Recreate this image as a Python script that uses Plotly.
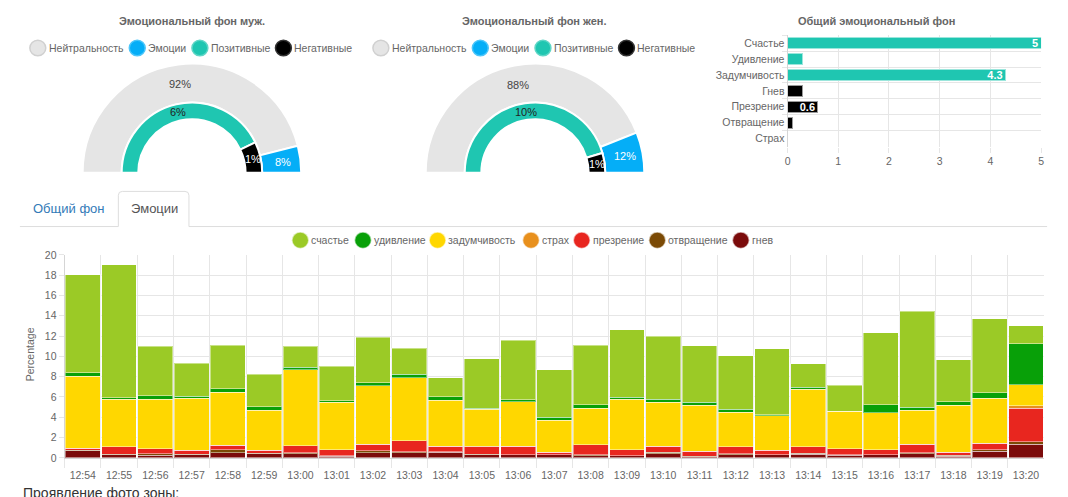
import math
import plotly.graph_objects as go

W, H = 1068, 497


def px(x):
    return x / W


def py(y):
    return 1 - y / H


FONT = "Liberation Sans, Arial, Helvetica, sans-serif"
TXT = "#666666"
GRID = "#e6e6e6"
FS = 10.5

# ---------------- data ----------------
gauge_outer_labels = ["Нейтральность", "Эмоции"]
gauge_inner_labels = ["Позитивные", "Негативные"]
male_outer = [92, 8]
male_inner = [6, 1]
female_outer = [88, 12]
female_inner = [10, 1]

overall_labels = ["Счастье", "Удивление", "Задумчивость", "Гнев", "Презрение", "Отвращение", "Страх"]
overall_values = [5, 0.3, 4.3, 0.3, 0.6, 0.1, 0]
overall_kind = ["pos", "pos", "pos", "neg", "neg", "neg", "neg"]

times = ["12:54", "12:55", "12:56", "12:57", "12:58", "12:59", "13:00", "13:01", "13:02",
         "13:03", "13:04", "13:05", "13:06", "13:07", "13:08", "13:09", "13:10", "13:11",
         "13:12", "13:13", "13:14", "13:15", "13:16", "13:17", "13:18", "13:19", "13:20"]
anger = [0.7, 0.3, 0.25, 0.3, 0.48, 0.42, 0.38, 0.15, 0.51, 0.48, 0.55, 0.32, 0.29, 0.29,
         0.22, 0.19, 0.42, 0.13, 0.32, 0.29, 0.35, 0.26, 0.29, 0.38, 0.16, 0.64, 1.34]
disgust = [0.05, 0.05, 0.15, 0.05, 0.32, 0.03, 0.1, 0.04, 0.19, 0.1, 0.03, 0.03, 0.03, 0.03,
           0.1, 0.03, 0.12, 0.03, 0.1, 0.03, 0.1, 0.06, 0.03, 0.1, 0.1, 0.16, 0.26]
contempt = [0.18, 0.73, 0.5, 0.42, 0.45, 0.29, 0.7, 0.61, 0.64, 1.12, 0.54, 0.74, 0.8, 0.22,
            0.99, 0.58, 0.61, 0.51, 0.67, 0.42, 0.64, 0.58, 0.48, 0.86, 0.28, 0.64, 3.26]
fear = [0.02, 0, 0, 0, 0, 0, 0, 0, 0, 0, 0, 0.03, 0, 0,
        0, 0, 0, 0, 0, 0, 0, 0, 0, 0, 0, 0, 0.26]
thoughtful = [7.1, 4.68, 4.86, 5.09, 5.21, 3.93, 7.52, 4.67, 5.76, 6.17, 4.54, 3.65, 4.42, 3.14,
              3.55, 4.96, 4.35, 4.51, 3.42, 3.42, 5.66, 3.68, 3.62, 3.36, 4.64, 4.42, 2.08]
surprise = [0.35, 0.14, 0.38, 0.22, 0.36, 0.35, 0.23, 0.13, 0.29, 0.35, 0.36, 0.09, 0.19, 0.32,
            0.36, 0.22, 0.26, 0.29, 0.29, 0.1, 0.19, 0.02, 0.8, 0.26, 0.36, 0.54, 4.06]
happiness = [9.65, 13.1, 4.86, 3.22, 4.28, 3.2, 2.07, 3.42, 4.48, 2.56, 1.88, 4.9, 5.85, 4.7,
             5.88, 6.62, 6.21, 5.57, 5.25, 6.49, 2.31, 2.54, 7.1, 9.5, 4.12, 7.3, 1.76]

# ---------------- styles ----------------
C_NEUTRAL = "#e5e5e5"
C_EMO = "#05aef7"
C_POS = "#1fc6b1"
C_NEG = "#000000"

series = [  # bottom -> top
    ("гнев", anger, "#7b0b0b"),
    ("отвращение", disgust, "#7b4a05"),
    ("презрение", contempt, "#e8261f"),
    ("страх", fear, "#e8901d"),
    ("задумчивость", thoughtful, "#ffd700"),
    ("удивление", surprise, "#08a008"),
    ("счастье", happiness, "#9bca26"),
]

fig = go.Figure()
shapes = []
annotations = []

# ---------------- gauges ----------------
R_OUT, R_MID, R_IN = 112, 72, 55
GAUGE_CY = 171
gauges = [
    (190, "Эмоциональный фон муж.", male_outer, male_inner),
    (535, "Эмоциональный фон жен.", female_outer, female_inner),
]


def half_pie(vals, labels, colors, tcolors, cx, r, r_hole):
    total = sum(vals)
    # labels placed at the middle of each slice (half circle from 9 o'clock clockwise)
    cum = 0
    rm = (r + r_hole) / 2
    for v, tc in zip(vals, tcolors):
        ang = math.pi * (1 - (cum + v / 2) / total)
        cum += v
        annotations.append(dict(
            text=f"{v}%", x=px(cx + rm * math.cos(ang)), y=py(GAUGE_CY - rm * math.sin(ang)),
            xref="paper", yref="paper", xanchor="center", yanchor="middle", showarrow=False,
            font=dict(family=FONT, size=11, color=tc)))
    return go.Pie(
        values=vals + [total],
        labels=labels + ["_"],
        textinfo="none",
        marker=dict(colors=colors + ["rgba(0,0,0,0)"],
                    line=dict(color="white", width=[2] * len(vals) + [0])),
        sort=False,
        direction="clockwise",
        rotation=-90,
        hole=r_hole / r,
        showlegend=False,
        hoverinfo="skip",
        domain=dict(x=[px(cx - r), px(cx + r)], y=[py(GAUGE_CY + r), py(GAUGE_CY - r)]),
    )


for cx, title, outer, inner in gauges:
    fig.add_trace(half_pie(outer, gauge_outer_labels, [C_NEUTRAL, C_EMO], ["#444444", "white"],
                           cx, R_OUT, R_MID))
    fig.add_trace(half_pie(inner, gauge_inner_labels, [C_POS, C_NEG], ["#222222", "white"],
                           cx, R_MID, R_IN))

# ---------------- overall horizontal bars ----------------
kind_color = {"pos": C_POS, "neg": C_NEG}
kind_line = {"pos": "#9be6dc", "neg": "#9a9a9a"}
fig.add_trace(go.Bar(
    x=overall_values, y=overall_labels, orientation="h", width=0.68,
    marker=dict(color=[kind_color[k] for k in overall_kind],
                line=dict(color=[kind_line[k] for k in overall_kind], width=1)),
    text=[f"{v:g}" if v >= 0.5 else "" for v in overall_values],
    textposition="inside", insidetextanchor="end", textangle=0, constraintext="none",
    textfont=dict(family=FONT, size=11, color="white", weight="bold"),
    xaxis="x", yaxis="y", showlegend=False, hoverinfo="skip",
))

# ---------------- stacked emotions ----------------
for name, vals, col in series:
    fig.add_trace(go.Bar(
        x=times, y=vals, name=name,
        marker=dict(color=col, line=dict(color="rgba(255,255,255,0.45)", width=1)),
        xaxis="x2", yaxis="y2", showlegend=False,
    ))

# ---------------- texts, legends, tabs ----------------
for cx, title, _, _ in gauges:
    annotations.append(dict(text=f"<b>{title}</b>", x=px(cx), y=py(15), xref="paper", yref="paper",
                            xanchor="center", yanchor="middle", showarrow=False,
                            font=dict(family=FONT, size=11, color=TXT)))
annotations.append(dict(text="<b>Общий эмоциональный фон</b>", x=px(878), y=py(15), xref="paper",
                        yref="paper", xanchor="center", yanchor="middle", showarrow=False,
                        font=dict(family=FONT, size=11, color=TXT)))


def legend_item(cx, cy, r, color, border, label, tx):
    shapes.append(dict(type="circle", xref="paper", yref="paper",
                       x0=px(cx - r), x1=px(cx + r), y0=py(cy + r), y1=py(cy - r),
                       fillcolor=color, line=dict(color=border, width=1.5)))
    annotations.append(dict(text=label, x=px(tx), y=py(cy), xref="paper", yref="paper",
                            xanchor="left", yanchor="middle", showarrow=False,
                            font=dict(family=FONT, size=FS, color=TXT)))


gauge_leg = [
    ("Нейтральность", C_NEUTRAL, "#d0d0d0", -155),
    ("Эмоции", C_EMO, "#4cc6fa", -55),
    ("Позитивные", C_POS, "#5fd6c6", 8),
    ("Негативные", C_NEG, "#333333", 92),
]
for cx, _, _, _ in gauges:
    for label, col, brd, off in gauge_leg:
        legend_item(cx + off, 43, 8, col, brd, label, cx + off + 9)

stack_leg_x = {"счастье": 299, "удивление": 362, "задумчивость": 437, "страх": 531,
               "презрение": 582, "отвращение": 658, "гнев": 742}
for name, vals, col in reversed(series):
    x0 = stack_leg_x[name]
    legend_item(x0, 240, 8.5, col, "rgba(255,255,255,0.6)", name, x0 + 9)

# tabs
shapes.append(dict(type="line", xref="paper", yref="paper", x0=px(17), x1=px(116),
                   y0=py(226), y1=py(226), line=dict(color="#dddddd", width=1)))
shapes.append(dict(type="line", xref="paper", yref="paper", x0=px(187), x1=px(1050),
                   y0=py(226), y1=py(226), line=dict(color="#dddddd", width=1)))
tab_path = (f"M {px(116)},{py(226)} L {px(116)},{py(194)} Q {px(116)},{py(190)} {px(120)},{py(190)} "
            f"L {px(183)},{py(190)} Q {px(187)},{py(190)} {px(187)},{py(194)} L {px(187)},{py(226)}")
shapes.append(dict(type="path", xref="paper", yref="paper", path=tab_path,
                   line=dict(color="#dddddd", width=1)))
annotations.append(dict(text="Общий фон", x=px(66), y=py(208), xref="paper", yref="paper",
                        xanchor="center", yanchor="middle", showarrow=False,
                        font=dict(family=FONT, size=13, color="#337ab7")))
annotations.append(dict(text="Эмоции", x=px(152), y=py(208), xref="paper", yref="paper",
                        xanchor="center", yanchor="middle", showarrow=False,
                        font=dict(family=FONT, size=13, color="#555555")))

# y-axis title for stacked chart
annotations.append(dict(text="Percentage", x=px(28), y=py(357), xref="paper", yref="paper",
                        xanchor="center", yanchor="middle", textangle=-90, showarrow=False,
                        font=dict(family=FONT, size=FS, color=TXT)))

# caption at the bottom (cut off by the window edge, as in the reference)
annotations.append(dict(text="Проявление фото зоны:", x=px(18), y=py(489), xref="paper", yref="paper",
                        xanchor="left", yanchor="top", showarrow=False,
                        font=dict(family=FONT, size=14, color="#333333")))

fig.update_layout(
    width=W, height=H,
    margin=dict(l=0, r=0, t=0, b=0),
    paper_bgcolor="white", plot_bgcolor="white",
    font=dict(family=FONT, size=FS, color=TXT),
    showlegend=False,
    barmode="stack", bargap=0.04,
    shapes=shapes, annotations=annotations,
    xaxis=dict(domain=[px(789), px(1044)], range=[0, 5], dtick=1, showgrid=True, gridcolor=GRID,
               zeroline=False, ticks="outside", ticklen=5, tickcolor=GRID, tickangle=0,
               tickfont=dict(family=FONT, size=FS, color=TXT), anchor="y", fixedrange=True),
    yaxis=dict(domain=[py(144), py(30)], type="category", range=[len(overall_labels) - 0.5, -0.5],
               tickson="boundaries", showgrid=True, gridcolor=GRID, ticks="outside", ticklen=5,
               tickcolor=GRID, showline=True, linecolor="#d5d5d5",
               tickfont=dict(family=FONT, size=FS, color=TXT), anchor="x"),
    xaxis2=dict(domain=[px(62), px(1047)], type="category", tickson="boundaries", showgrid=True,
                gridcolor=GRID, ticks="outside", ticklen=9, tickcolor=GRID, tickangle=0,
                ticklabelstandoff=8,
                showline=True, linecolor="#d5d5d5",
                tickfont=dict(family=FONT, size=FS, color=TXT), anchor="y2"),
    yaxis2=dict(domain=[py(463), py(255)], range=[0, 20], dtick=2, showgrid=True, gridcolor=GRID,
                zeroline=False, ticks="outside", ticklen=5, tickcolor=GRID,
                showline=True, linecolor="#d5d5d5",
                tickfont=dict(family=FONT, size=FS, color=TXT), anchor="x2"),
)

fig.write_html("out.html")
